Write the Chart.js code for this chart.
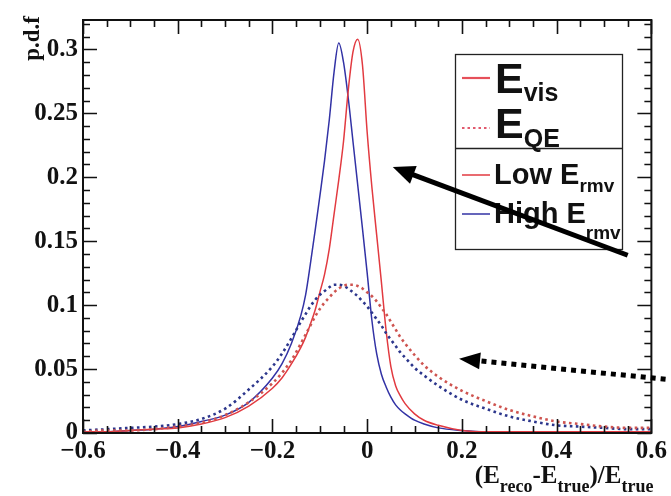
<!DOCTYPE html>
<html><head><meta charset="utf-8">
<script src="https://cdn.jsdelivr.net/npm/chart.js@4/dist/chart.umd.min.js"></script>
<style>html,body{margin:0;padding:0;background:#fff;}canvas{display:block}</style>
</head><body>
<canvas id="c" width="671" height="496"></canvas>
<script>
// ---- data ----
const xValues = [-0.6,-0.55,-0.5,-0.45,-0.4,-0.35,-0.3,-0.25,-0.2,-0.18,-0.16,-0.14,-0.13,-0.12,-0.11,-0.1,-0.09,-0.08,-0.07,-0.06,-0.05,-0.04,-0.03,-0.02,-0.01,0,0.01,0.02,0.03,0.04,0.05,0.06,0.07,0.08,0.1,0.12,0.15,0.2,0.25,0.3,0.35,0.4,0.45,0.5,0.55,0.6];
// E_vis, Low E_rmv (red solid)
const evisLow  = [0.001,0.001,0.002,0.003,0.004,0.007,0.012,0.021,0.035,0.043,0.054,0.067,0.075,0.085,0.096,0.110,0.124,0.144,0.171,0.198,0.228,0.268,0.298,0.308,0.288,0.235,0.192,0.155,0.118,0.080,0.052,0.037,0.029,0.023,0.015,0.010,0.006,0.002,0.001,0.001,0.001,0.001,0.001,0.001,0.001,0.001];
// E_vis, High E_rmv (blue solid)
const evisHigh = [0.001,0.001,0.002,0.003,0.005,0.009,0.014,0.024,0.043,0.054,0.070,0.092,0.108,0.132,0.158,0.185,0.213,0.245,0.282,0.305,0.290,0.262,0.228,0.194,0.160,0.125,0.088,0.062,0.046,0.036,0.028,0.022,0.018,0.015,0.010,0.007,0.004,0.002,0.001,0.001,0.001,0.001,0.001,0.001,0.001,0.001];
// E_QE, Low E_rmv (red dotted)
const eqeLow   = [0.001,0.002,0.002,0.003,0.005,0.008,0.014,0.024,0.039,0.047,0.057,0.070,0.077,0.084,0.091,0.097,0.102,0.106,0.110,0.113,0.115,0.116,0.116,0.115,0.113,0.110,0.107,0.103,0.098,0.093,0.087,0.081,0.075,0.070,0.061,0.053,0.044,0.033,0.025,0.018,0.013,0.009,0.007,0.005,0.004,0.004];
// E_QE, High E_rmv (blue dotted)
const eqeHigh  = [0.002,0.003,0.004,0.005,0.007,0.011,0.019,0.034,0.052,0.062,0.074,0.087,0.093,0.099,0.104,0.108,0.111,0.114,0.116,0.116,0.115,0.113,0.110,0.107,0.103,0.099,0.094,0.089,0.084,0.078,0.073,0.068,0.063,0.059,0.051,0.045,0.037,0.026,0.019,0.013,0.009,0.006,0.005,0.004,0.003,0.003];

const xTicks = [-0.6,-0.4,-0.2,0,0.2,0.4,0.6];
const xTickLabels = ['\u22120.6','\u22120.4','\u22120.2','0','0.2','0.4','0.6'];
const yTicks = [0,0.05,0.1,0.15,0.2,0.25,0.3];
const yTickLabels = ['0','0.05','0.1','0.15','0.2','0.25','0.3'];
const seriesLabels = ['E_vis Low E_rmv','E_vis High E_rmv','E_QE Low E_rmv','E_QE High E_rmv'];
// annotation arrows in data coordinates [x, y]
const arrowSolid  = {from:[0.55,0.139], to:[0.054,0.208]};
const arrowDotted = {from:[0.63,0.042], to:[0.194,0.058]};

// ---- styles ----
const RED='rgb(226,58,64)', BLUE='rgb(50,50,165)', REDDOT='rgb(206,84,80)', BLUEDOT='rgb(44,54,140)';
const SERIF='"Liberation Serif","Times New Roman",serif';
const SANS='"Liberation Sans",Arial,sans-serif';

function pts(ys){ return xValues.map((x,i)=>({x:x,y:ys[i]})); }

function drawArrow(ctx,x0,y0,x1,y1,w,hl,hw,dash){
  const a=Math.atan2(y1-y0,x1-x0), c=Math.cos(a), s=Math.sin(a);
  const bx=x1-hl*c, by=y1-hl*s;
  ctx.save(); ctx.strokeStyle='#000'; ctx.fillStyle='#000'; ctx.lineWidth=w; ctx.lineCap='butt';
  ctx.setLineDash(dash||[]);
  ctx.beginPath(); ctx.moveTo(x0,y0); ctx.lineTo(bx+2*c,by+2*s); ctx.stroke();
  ctx.setLineDash([]);
  ctx.beginPath(); ctx.moveTo(x1,y1);
  ctx.lineTo(bx+hw/2*s,by-hw/2*c); ctx.lineTo(bx-hw/2*s,by+hw/2*c); ctx.closePath(); ctx.fill();
  ctx.restore();
}
// draw a sequence of text parts: [text, font, dy]
function drawParts(ctx,x,y,parts){
  ctx.save(); ctx.textAlign='left'; ctx.textBaseline='alphabetic'; ctx.fillStyle='#111';
  for(const p of parts){ ctx.font=p[1]; ctx.fillText(p[0],x,y+(p[2]||0)); x+=ctx.measureText(p[0]).width; }
  ctx.restore(); return x;
}
function partsWidth(ctx,parts){ let w=0; ctx.save(); for(const p of parts){ctx.font=p[1]; w+=ctx.measureText(p[0]).width;} ctx.restore(); return w; }

const decor = {
  id:'decor',
  afterDatasetsDraw(chart){
    const ctx=chart.ctx, a=chart.chartArea, xs=chart.scales.x, ys=chart.scales.y;
    ctx.save(); ctx.strokeStyle='#111'; ctx.lineWidth=1.6;
    // y ticks (minor every 0.01, major every 0.05), both sides, inward
    for(let k=0;k<=32;k++){
      const v=k/100, py=Math.round(ys.getPixelForValue(v))+0.5, len=(k%5===0)?14:7;
      ctx.beginPath(); ctx.moveTo(a.left,py); ctx.lineTo(a.left+len,py);
      ctx.moveTo(a.right,py); ctx.lineTo(a.right-len,py); ctx.stroke();
    }
    // x ticks (minor every 0.05, major every 0.2)
    for(let k=-12;k<=12;k++){
      const v=k/20, px=Math.round(xs.getPixelForValue(v))+0.5, len=(k%4===0)?14:7;
      ctx.beginPath(); ctx.moveTo(px,a.bottom); ctx.lineTo(px,a.bottom-len);
      ctx.moveTo(px,a.top); ctx.lineTo(px,a.top+len); ctx.stroke();
    }
    ctx.lineWidth=2; ctx.strokeRect(a.left,a.top,a.right-a.left,a.bottom-a.top);
    ctx.restore();
  },
  afterDraw(chart){
    const ctx=chart.ctx, a=chart.chartArea, xs=chart.scales.x, ys=chart.scales.y;
    // y title
    ctx.save(); ctx.fillStyle='#111'; ctx.font='bold 23px '+SERIF;
    ctx.translate(a.left-50,a.top-4); ctx.rotate(-Math.PI/2);
    ctx.textAlign='right'; ctx.textBaseline='middle'; ctx.fillText('p.d.f',0,0); ctx.restore();
    // x title with subscripts
    const M='bold 25px '+SERIF, S='bold 18px '+SERIF;
    const xt=[['(E',M],['reco',S,9],['-E',M],['true',S,9],[')/E',M],['true',S,9]];
    drawParts(ctx,a.right-partsWidth(ctx,xt)+2,a.bottom+50,xt);
    // legend
    const L=455,T=54,R=622,B=249,D=148;
    ctx.save(); ctx.fillStyle='#fff'; ctx.fillRect(L,T,R-L,B-T);
    ctx.strokeStyle='#222'; ctx.lineWidth=1.3; ctx.strokeRect(L+0.5,T+0.5,R-L,B-T);
    ctx.beginPath(); ctx.moveTo(L,D+0.5); ctx.lineTo(R,D+0.5); ctx.stroke();
    function sample(y,color,w,dash){ ctx.save(); ctx.strokeStyle=color; ctx.lineWidth=w; ctx.setLineDash(dash||[]);
      ctx.beginPath(); ctx.moveTo(462,y); ctx.lineTo(490,y); ctx.stroke(); ctx.restore(); }
    sample(78,'rgb(230,80,90)',2.2);
    sample(128,'rgb(225,90,110)',2.2,[2.5,3]);
    sample(175,RED,1.5);
    sample(214,BLUE,1.5);
    ctx.restore();
    const BE='bold 43px '+SANS, BS='bold 25px '+SANS, ME='bold 29px '+SANS, MS='bold 19px '+SANS;
    drawParts(ctx,495,93,[['E',BE],['vis',BS,8]]);
    drawParts(ctx,495,138,[['E',BE],['QE',BS,9]]);
    drawParts(ctx,494,184,[['Low E',ME],['rmv',MS,8]]);
    drawParts(ctx,494,223,[['High E',ME],['rmv',MS,16]]);
    // arrows
    const p=(d)=>[xs.getPixelForValue(d[0]),ys.getPixelForValue(d[1])];
    let f=p(arrowSolid.from), t=p(arrowSolid.to);
    drawArrow(ctx,f[0],f[1],t[0],t[1],5,22,19);
    f=p(arrowDotted.from); t=p(arrowDotted.to);
    drawArrow(ctx,f[0],f[1],t[0],t[1],5,21,17,[5,5]);
  }
};

const common={pointRadius:0,pointHoverRadius:0,fill:false,cubicInterpolationMode:'monotone'};
new Chart(document.getElementById('c'),{
  type:'line',
  data:{datasets:[
    Object.assign({label:seriesLabels[2],data:pts(eqeLow),borderColor:REDDOT,borderWidth:2.6,borderDash:[2.6,3.4]},common),
    Object.assign({label:seriesLabels[3],data:pts(eqeHigh),borderColor:BLUEDOT,borderWidth:2.6,borderDash:[2.6,3.4]},common),
    Object.assign({label:seriesLabels[0],data:pts(evisLow),borderColor:RED,borderWidth:1.5},common),
    Object.assign({label:seriesLabels[1],data:pts(evisHigh),borderColor:BLUE,borderWidth:1.5},common)
  ]},
  options:{
    responsive:false, animation:false, devicePixelRatio:1,
    layout:{autoPadding:false,padding:{top:13,right:14,left:0,bottom:0}},
    plugins:{legend:{display:false},tooltip:{enabled:false},title:{display:false}},
    scales:{
      x:{type:'linear',min:-0.6,max:0.6,
        afterBuildTicks:s=>{s.ticks=xTicks.map(v=>({value:v}));},
        afterFit:s=>{s.height=63;},
        grid:{display:false,drawTicks:false},border:{display:false},
        ticks:{padding:4,color:'#111',font:{family:SERIF,size:25,weight:'bold'},maxRotation:0,autoSkip:false,
          callback:(v)=>{const i=xTicks.findIndex(t=>Math.abs(t-v)<1e-9);return i<0?'':xTickLabels[i];}}},
      y:{type:'linear',min:0,max:0.323,
        afterBuildTicks:s=>{s.ticks=yTicks.map(v=>({value:v}));},
        afterFit:s=>{s.width=83;},
        grid:{display:false,drawTicks:false},border:{display:false},
        ticks:{padding:5,color:'#111',font:{family:SERIF,size:25,weight:'bold'},autoSkip:false,
          callback:(v)=>{const i=yTicks.findIndex(t=>Math.abs(t-v)<1e-9);return i<0?'':yTickLabels[i];}}}
    }
  },
  plugins:[decor]
});
</script>
</body></html>
